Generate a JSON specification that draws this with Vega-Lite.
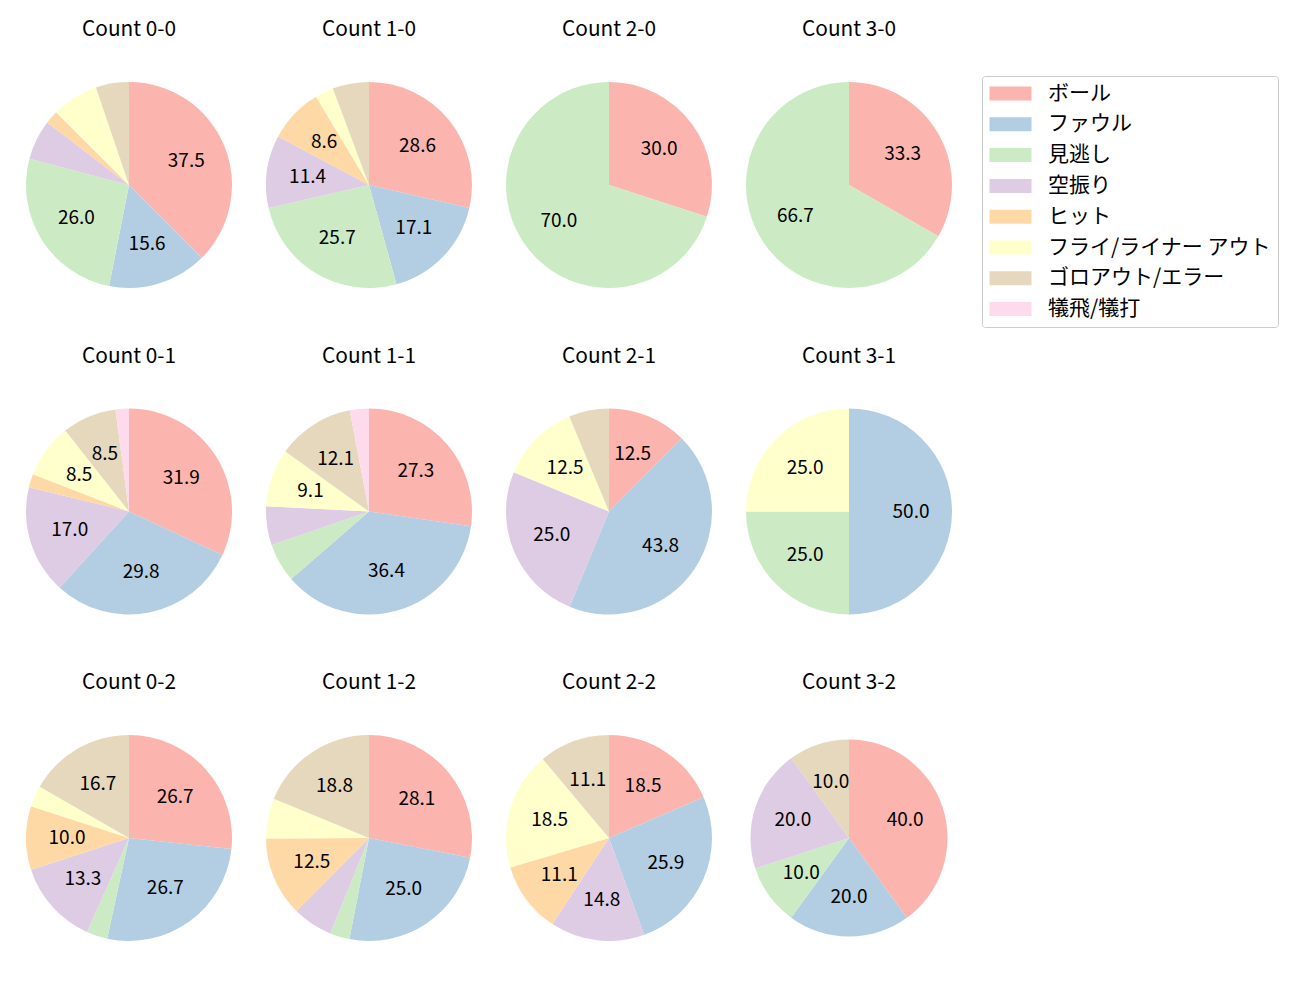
{
  "$schema": "https://vega.github.io/schema/vega-lite/v6.json",
  "padding": {"left": 26, "top": 19, "right": 0, "bottom": 0},
  "background": "white",
  "config": {
    "view": {"stroke": null},
    "font": "Noto Sans CJK JP"
  },
  "data": {
    "values": [
      {"c": "Count 0-0", "t": "ボール", "p": 37.5},
      {"c": "Count 0-0", "t": "ファウル", "p": 15.6},
      {"c": "Count 0-0", "t": "見逃し", "p": 26.0},
      {"c": "Count 0-0", "t": "空振り", "p": 6.3},
      {"c": "Count 0-0", "t": "ヒット", "p": 2.1},
      {"c": "Count 0-0", "t": "フライ/ライナー アウト", "p": 7.3},
      {"c": "Count 0-0", "t": "ゴロアウト/エラー", "p": 5.2},

      {"c": "Count 1-0", "t": "ボール", "p": 28.6},
      {"c": "Count 1-0", "t": "ファウル", "p": 17.1},
      {"c": "Count 1-0", "t": "見逃し", "p": 25.7},
      {"c": "Count 1-0", "t": "空振り", "p": 11.4},
      {"c": "Count 1-0", "t": "ヒット", "p": 8.6},
      {"c": "Count 1-0", "t": "フライ/ライナー アウト", "p": 2.9},
      {"c": "Count 1-0", "t": "ゴロアウト/エラー", "p": 5.7},

      {"c": "Count 2-0", "t": "ボール", "p": 30.0},
      {"c": "Count 2-0", "t": "見逃し", "p": 70.0},

      {"c": "Count 3-0", "t": "ボール", "p": 33.3},
      {"c": "Count 3-0", "t": "見逃し", "p": 66.7},

      {"c": "Count 0-1", "t": "ボール", "p": 31.9},
      {"c": "Count 0-1", "t": "ファウル", "p": 29.8},
      {"c": "Count 0-1", "t": "空振り", "p": 17.0},
      {"c": "Count 0-1", "t": "ヒット", "p": 2.1},
      {"c": "Count 0-1", "t": "フライ/ライナー アウト", "p": 8.5},
      {"c": "Count 0-1", "t": "ゴロアウト/エラー", "p": 8.5},
      {"c": "Count 0-1", "t": "犠飛/犠打", "p": 2.1},

      {"c": "Count 1-1", "t": "ボール", "p": 27.3},
      {"c": "Count 1-1", "t": "ファウル", "p": 36.4},
      {"c": "Count 1-1", "t": "見逃し", "p": 6.1},
      {"c": "Count 1-1", "t": "空振り", "p": 6.1},
      {"c": "Count 1-1", "t": "フライ/ライナー アウト", "p": 9.1},
      {"c": "Count 1-1", "t": "ゴロアウト/エラー", "p": 12.1},
      {"c": "Count 1-1", "t": "犠飛/犠打", "p": 3.0},

      {"c": "Count 2-1", "t": "ボール", "p": 12.5},
      {"c": "Count 2-1", "t": "ファウル", "p": 43.8},
      {"c": "Count 2-1", "t": "空振り", "p": 25.0},
      {"c": "Count 2-1", "t": "フライ/ライナー アウト", "p": 12.5},
      {"c": "Count 2-1", "t": "ゴロアウト/エラー", "p": 6.3},

      {"c": "Count 3-1", "t": "ファウル", "p": 50.0},
      {"c": "Count 3-1", "t": "見逃し", "p": 25.0},
      {"c": "Count 3-1", "t": "フライ/ライナー アウト", "p": 25.0},

      {"c": "Count 0-2", "t": "ボール", "p": 26.7},
      {"c": "Count 0-2", "t": "ファウル", "p": 26.7},
      {"c": "Count 0-2", "t": "見逃し", "p": 3.3},
      {"c": "Count 0-2", "t": "空振り", "p": 13.3},
      {"c": "Count 0-2", "t": "ヒット", "p": 10.0},
      {"c": "Count 0-2", "t": "フライ/ライナー アウト", "p": 3.3},
      {"c": "Count 0-2", "t": "ゴロアウト/エラー", "p": 16.7},

      {"c": "Count 1-2", "t": "ボール", "p": 28.1},
      {"c": "Count 1-2", "t": "ファウル", "p": 25.0},
      {"c": "Count 1-2", "t": "見逃し", "p": 3.1},
      {"c": "Count 1-2", "t": "空振り", "p": 6.3},
      {"c": "Count 1-2", "t": "ヒット", "p": 12.5},
      {"c": "Count 1-2", "t": "フライ/ライナー アウト", "p": 6.3},
      {"c": "Count 1-2", "t": "ゴロアウト/エラー", "p": 18.8},

      {"c": "Count 2-2", "t": "ボール", "p": 18.5},
      {"c": "Count 2-2", "t": "ファウル", "p": 25.9},
      {"c": "Count 2-2", "t": "空振り", "p": 14.8},
      {"c": "Count 2-2", "t": "ヒット", "p": 11.1},
      {"c": "Count 2-2", "t": "フライ/ライナー アウト", "p": 18.5},
      {"c": "Count 2-2", "t": "ゴロアウト/エラー", "p": 11.1},

      {"c": "Count 3-2", "t": "ボール", "p": 40.0},
      {"c": "Count 3-2", "t": "ファウル", "p": 20.0},
      {"c": "Count 3-2", "t": "見逃し", "p": 10.0},
      {"c": "Count 3-2", "t": "空振り", "p": 20.0},
      {"c": "Count 3-2", "t": "ゴロアウト/エラー", "p": 10.0}
    ]
  },
  "transform": [
    {"calculate": "indexof(['ボール','ファウル','見逃し','空振り','ヒット','フライ/ライナー アウト','ゴロアウト/エラー','犠飛/犠打'], datum.t)", "as": "k"}
  ],
  "columns": 4,
  "spacing": {"row": 57.5, "column": 34},
  "facet": {
    "field": "c",
    "type": "nominal",
    "sort": ["Count 0-0", "Count 1-0", "Count 2-0", "Count 3-0", "Count 0-1", "Count 1-1", "Count 2-1", "Count 3-1", "Count 0-2", "Count 1-2", "Count 2-2", "Count 3-2"],
    "header": {
      "title": null,
      "labelFontSize": 20.8,
      "labelFont": "Noto Sans CJK JP",
      "labelColor": "black",
      "labelPadding": 41
    }
  },
  "resolve": {"scale": {"theta": "independent"}},
  "spec": {
    "width": 206,
    "height": 206,
    "encoding": {
      "theta": {"field": "p", "type": "quantitative", "stack": true},
      "order": {"field": "k", "type": "quantitative"},
      "color": {
        "field": "t",
        "type": "nominal",
        "scale": {
          "domain": ["ボール", "ファウル", "見逃し", "空振り", "ヒット", "フライ/ライナー アウト", "ゴロアウト/エラー", "犠飛/犠打"],
          "range": ["#fbb4ae", "#b3cde3", "#ccebc5", "#decbe4", "#fed9a6", "#ffffcc", "#e5d8bd", "#fddaec"]
        },
        "legend": {
          "title": null,
          "orient": "none",
          "legendX": 956,
          "legendY": -6,
          "symbolType": "M-3,-1H3V1H-3Z",
          "symbolSize": 196,
          "symbolOffset": 11,
          "symbolStrokeWidth": 0,
          "labelFontSize": 21,
          "labelFont": "Noto Sans CJK JP",
          "labelColor": "black",
          "labelOffset": 27,
          "rowPadding": 8.8,
          "padding": 7,
          "strokeColor": "#cccccc",
          "fillColor": "white",
          "cornerRadius": 3,
          "labelLimit": 400
        }
      }
    },
    "layer": [
      {
        "transform": [{"filter": "datum.c !== 'Count 3-2'"}],
        "mark": {"type": "arc", "outerRadius": 103}
      },
      {
        "transform": [{"filter": "datum.c === 'Count 3-2'"}],
        "mark": {"type": "arc", "outerRadius": 98.5}
      },
      {
        "transform": [{"filter": "datum.c !== 'Count 3-2'"}],
        "mark": {"type": "text", "radius": 62, "fontSize": 19, "font": "Noto Sans CJK JP", "color": "black"},
        "encoding": {
          "color": {"value": "black"},
          "text": {
            "condition": {"test": "datum.p >= 8", "field": "p", "type": "quantitative", "format": ".1f"},
            "value": ""
          }
        }
      },
      {
        "transform": [{"filter": "datum.c === 'Count 3-2'"}],
        "mark": {"type": "text", "radius": 59, "fontSize": 19, "font": "Noto Sans CJK JP", "color": "black"},
        "encoding": {
          "color": {"value": "black"},
          "text": {
            "condition": {"test": "datum.p >= 8", "field": "p", "type": "quantitative", "format": ".1f"},
            "value": ""
          }
        }
      }
    ]
  }
}
